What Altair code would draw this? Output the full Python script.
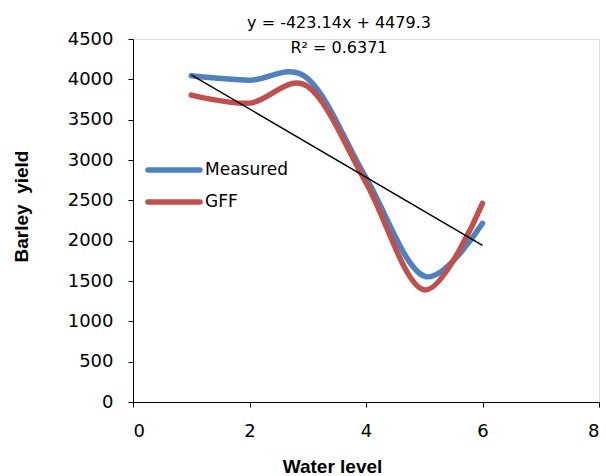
import altair as alt
import pandas as pd

water_level = [1, 2, 3, 4, 5, 6]
measured = [4045, 3990, 4010, 2780, 1560, 2215]
gff = [3805, 3705, 3910, 2720, 1390, 2463]
series_names = ["Measured", "GFF"]
colors = ["#4F81BD", "#C0504D"]

trend_slope = -423.14
trend_intercept = 4479.3
trend_x = [1, 6]
eq_lines = ["y = -423.14x + 4479.3", "R² = 0.6371"]

x_ticks = [0, 2, 4, 6, 8]
y_ticks = [0, 500, 1000, 1500, 2000, 2500, 3000, 3500, 4000, 4500]

rows = []
for name, vals in zip(series_names, [measured, gff]):
    for xv, yv in zip(water_level, vals):
        rows.append({"x": xv, "y": yv, "series": name})
df = pd.DataFrame(rows)

trend_df = pd.DataFrame({"x": trend_x, "y": [trend_slope * v + trend_intercept for v in trend_x]})

color_scale = alt.Scale(domain=series_names, range=colors)
x_scale = alt.Scale(domain=[0, 8], nice=False, zero=False)
y_scale = alt.Scale(domain=[0, 4500], nice=False)

x_axis = alt.Axis(
    values=x_ticks, format="d", grid=False, tickSize=5, labelFontSize=18, labelFont="DejaVu Sans",
    labelColor="#000", labelPadding=15, domainColor="#000", tickColor="#000",
    title="Water level", titleFont="Liberation Sans", titleFontWeight="bold", titleFontSize=19,
    titleColor="#000", titleX=199, titleY=64, titleAlign="center", titleBaseline="middle",
)
y_axis = alt.Axis(
    values=y_ticks, format="d", grid=False, tickSize=5, labelFontSize=18, labelFont="DejaVu Sans",
    labelColor="#000", labelPadding=15, domainColor="#000", tickColor="#000",
    title="Barley\u00a0 yield", titleFont="Liberation Sans", titleFontWeight="bold", titleFontSize=19,
    titleColor="#000", titleX=-112, titleY=167, titleAlign="center", titleBaseline="middle", titleAngle=270,
)

lines = alt.Chart(df).mark_line(interpolate="cardinal", strokeWidth=5.5, strokeCap="round").encode(
    x=alt.X("x:Q", scale=x_scale, axis=x_axis),
    y=alt.Y("y:Q", scale=y_scale, axis=y_axis),
    color=alt.Color("series:N", scale=color_scale, legend=None),
    order=alt.Order("x:Q"),
)

trend = alt.Chart(trend_df).mark_line(color="#000", strokeWidth=1.5).encode(
    x=alt.X("x:Q", scale=x_scale),
    y=alt.Y("y:Q", scale=y_scale),
)

layers = [lines, trend]

for i, name in enumerate(series_names):
    ldf = pd.DataFrame({"series": [name]})
    yy = 131 + 32 * i
    layers.append(alt.Chart(ldf).mark_rule(strokeWidth=5.5, strokeCap="round").encode(
        x=alt.value(15), x2=alt.value(67), y=alt.value(yy),
        color=alt.Color("series:N", scale=color_scale, legend=None),
    ))
    layers.append(alt.Chart(ldf).mark_text(align="left", baseline="middle", fontSize=17,
                                           font="DejaVu Sans", color="#000").encode(
        x=alt.value(72), y=alt.value(yy), text="series:N",
    ))

for i, line in enumerate(eq_lines):
    tdf = pd.DataFrame({"t": [line]})
    layers.append(alt.Chart(tdf).mark_text(align="center", baseline="middle", fontSize=16,
                                           font="DejaVu Sans", color="#000").encode(
        x=alt.value(206), y=alt.value(-16 + 25 * i), text="t:N",
    ))

chart = alt.layer(*layers).properties(
    width=466, height=363,
    autosize=alt.AutoSizeParams(type="none"),
    padding={"left": 133, "top": 39, "right": 7, "bottom": 74},
).configure_view(stroke=None).configure(background="white")

chart.save("out.html", embed_options={"renderer": "svg", "actions": False})
